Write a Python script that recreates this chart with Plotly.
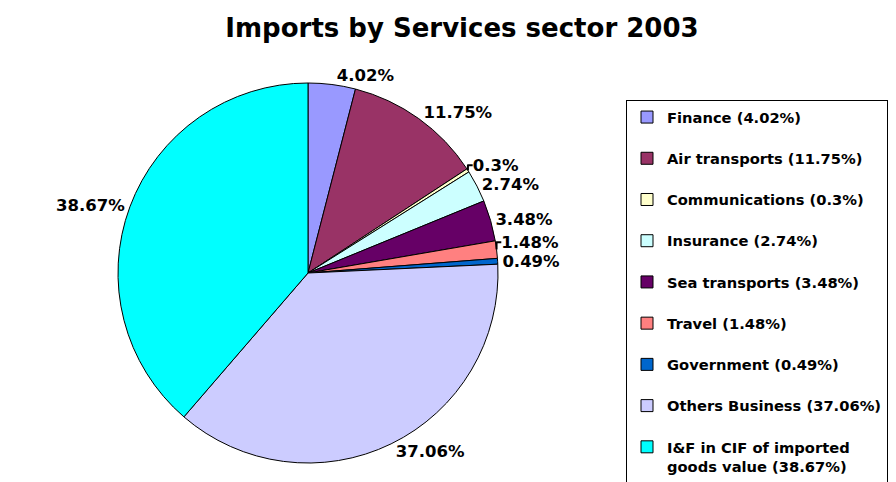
import plotly.graph_objects as go

categories = ["Finance", "Air transports", "Communications", "Insurance",
              "Sea transports", "Travel", "Government", "Others Business",
              "I&F in CIF of imported goods value"]
shares = [4.02, 11.75, 0.3, 2.74, 3.48, 1.48, 0.49, 37.06, 38.67]
colors = ["#9999FF", "#993366", "#FFFFCC", "#CCFFFF", "#660066",
          "#FF8080", "#0066CC", "#CCCCFF", "#00FFFF"]
title_text = "Imports by Services sector 2003"

W, H = 896, 482
FONT = "DejaVu Sans"

legend_labels = []
for c, v in zip(categories, shares):
    if c.startswith("I&F"):
        legend_labels.append("I&F in CIF of imported<br>goods value (%g%%)" % v)
    else:
        legend_labels.append("%s (%g%%)<br> " % (c, v))
slice_text = ["%g%%" % v for v in shares]

fig = go.Figure(go.Pie(
    labels=legend_labels,
    values=shares,
    text=slice_text,
    textinfo="text",
    textposition="outside",
    outsidetextfont=dict(family=FONT, size=16.5, color="black", weight="bold"),
    sort=False,
    direction="clockwise",
    rotation=0,
    marker=dict(colors=colors, line=dict(color="black", width=1)),
    domain=dict(x=[0, 616 / W], y=[1 - 463 / H, 1 - 83 / H]),
    hoverinfo="label+value",
))

fig.update_layout(
    width=W, height=H,
    margin=dict(l=0, r=0, t=0, b=0, autoexpand=False),
    paper_bgcolor="white",
    plot_bgcolor="white",
    title=dict(text=title_text, x=462 / W, xanchor="center",
               y=1 - 28 / H, yanchor="middle",
               font=dict(family=FONT, size=26, color="black", weight="bold")),
    legend=dict(x=626 / W, xanchor="left", y=1 - 100 / H, yanchor="top",
                bordercolor="black", borderwidth=1, bgcolor="white",
                valign="top", traceorder="normal",
                font=dict(family=FONT, size=14.7, color="black", weight="bold")),
    showlegend=True,
)

fig.write_html("out.html")
